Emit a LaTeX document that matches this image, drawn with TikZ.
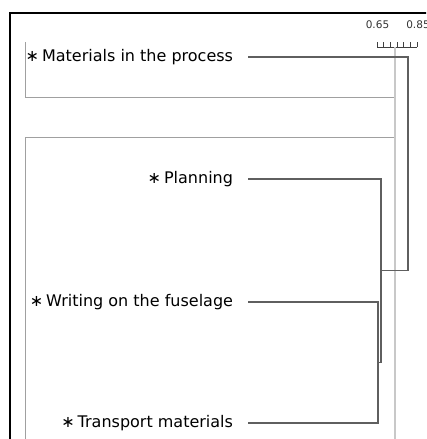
\documentclass[tikz,border=0pt]{standalone}
\usepackage{fontspec}
\setmainfont{DejaVu Sans}
\usetikzlibrary{positioning,calc}

\definecolor{branchgray}{RGB}{95,95,95}
\definecolor{boxgray}{RGB}{160,160,160}
\definecolor{cutgray}{RGB}{200,200,200}

\begin{document}
\begin{tikzpicture}[x=1pt, y=-1pt,
    leaf/.style={anchor=east, inner sep=0pt, outer xsep=15pt, font=\fontsize{16}{19}\selectfont},
    scalelbl/.style={inner sep=0pt, font=\fontsize{10.5}{12}\selectfont, text=black!80},
    branch/.style={draw=branchgray, line width=1.3pt},
    groupbox/.style={draw=boxgray, line width=0.9pt},
    cutline/.style={draw=cutgray, line width=1.4pt},
    tickline/.style={draw=black!75, line width=0.8pt}
]
\clip (0,0) rectangle (426,439);

% frame and group boxes
\draw[line width=2.7pt] (10,460) |- (450,13);
\draw[groupbox] (25.5,42) |- (395,97);
\draw[groupbox] (25.5,460) |- (395,137);

% similarity scale and cut level
\node[scalelbl] (s1) at (377.5,25) {0.65};
\node[scalelbl] (s2) at (418,25) {0.85};
\draw[tickline] (377,47) -- (417,47);
\foreach \i in {0,...,6}
    \draw[tickline] (377+\i*6.667,47) -- ++(0,-5);
\draw[cutline] (395,47) -- (395,460);

% leaves
\node[leaf] (mat) at (248,57) {∗\hspace{3pt}Materials in the process};
\node[leaf] (plan) at (248,179) {∗\hspace{3pt}Planning};
\node[leaf] (fuse) at (248,302) {∗\hspace{3pt}Writing on the fuselage};
\node[leaf] (trans) at (248,423) {∗\hspace{3pt}Transport materials};

\coordinate (wt) at (378,362.5);
\coordinate (pwt) at (381,270.5);
\coordinate (all) at (408,163.5);

\draw[branch] (fuse.east) -| (wt) |- (trans.east);
\draw[branch] (plan.east) -| (pwt) |- (wt);
\draw[branch] (pwt) -| (all) |- (mat.east);
\end{tikzpicture}
\end{document}
